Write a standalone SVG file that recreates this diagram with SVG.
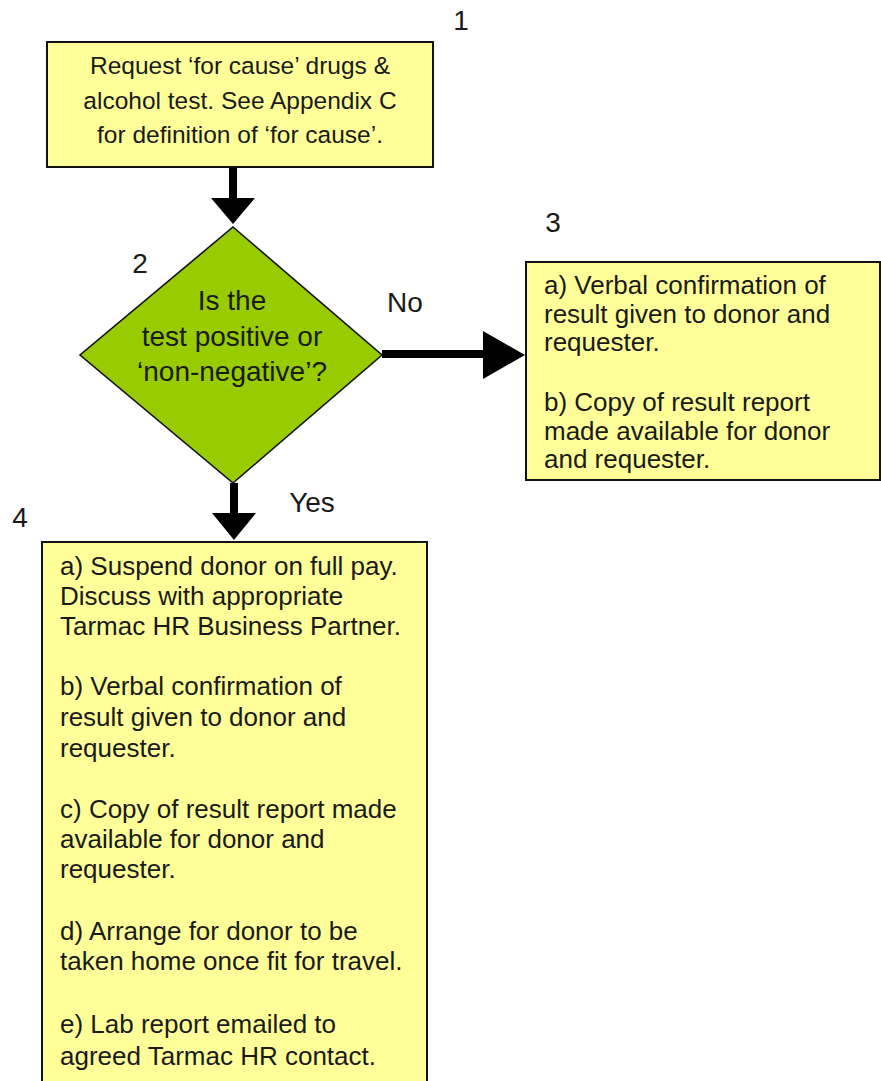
<svg xmlns="http://www.w3.org/2000/svg" width="881" height="1081" viewBox="0 0 881 1081">
<style>
.box{fill:#ffff99;stroke:#111;stroke-width:2}
.dia{fill:#99cc00;stroke:#111;stroke-width:1.6}
.t{font-family:"Liberation Sans",Arial,sans-serif;fill:#1a1a1a}
.b1{font-size:24.5px;text-anchor:middle}
.b{font-size:26px}
.d{font-size:28px;text-anchor:middle}
.lbl{font-family:"Liberation Sans",Arial,sans-serif;font-size:28px;fill:#1a1a1a;text-anchor:middle}
.shaft{stroke:#000;stroke-width:8;fill:none}
.head{fill:#000}
</style>
<rect width="881" height="1081" fill="#fff"/>
<g id="connectors">
  <line class="shaft" x1="233" y1="167" x2="233" y2="200"/>
  <polygon class="head" points="211,198 255,198 233,224"/>
  <line class="shaft" x1="382" y1="354" x2="485" y2="354"/>
  <polygon class="head" points="483,331 483,379 525,355"/>
  <line class="shaft" x1="234" y1="483" x2="234" y2="515"/>
  <polygon class="head" points="212,513 256,513 234,540"/>
  <text class="lbl" x="405" y="312">No</text>
  <text class="lbl" x="312" y="512">Yes</text>
</g>
<g id="node1">
  <rect class="box" x="47" y="42" width="386" height="125"/>
  <text class="t b1" x="240" y="74">Request ‘for cause’ drugs &amp;</text>
  <text class="t b1" x="240" y="109">alcohol test. See Appendix C</text>
  <text class="t b1" x="240" y="143">for definition of ‘for cause’.</text>
  <text class="lbl" x="461" y="30">1</text>
</g>
<g id="node2">
  <polygon class="dia" points="233,227 382,355 233,483 80,355"/>
  <text class="t d" x="232" y="310">Is the</text>
  <text class="t d" x="232" y="346">test positive or</text>
  <text class="t d" x="232" y="381">‘non-negative’?</text>
  <text class="lbl" x="140" y="273">2</text>
</g>
<g id="node3">
  <rect class="box" x="526" y="262" width="354" height="218"/>
  <text class="t b" x="544" y="294">a) Verbal confirmation of</text>
  <text class="t b" x="544" y="322.5">result given to donor and</text>
  <text class="t b" x="544" y="351">requester.</text>
  <text class="t b" x="544" y="411">b) Copy of result report</text>
  <text class="t b" x="544" y="440">made available for donor</text>
  <text class="t b" x="544" y="468">and requester.</text>
  <text class="lbl" x="553" y="232">3</text>
</g>
<g id="node4">
  <rect class="box" x="42" y="542" width="385" height="560"/>
  <text class="t b" x="60" y="575">a) Suspend donor on full pay.</text>
  <text class="t b" x="60" y="605">Discuss with appropriate</text>
  <text class="t b" x="60" y="635">Tarmac HR Business Partner.</text>
  <text class="t b" x="60" y="695">b) Verbal confirmation of</text>
  <text class="t b" x="60" y="726">result given to donor and</text>
  <text class="t b" x="60" y="757">requester.</text>
  <text class="t b" x="60" y="818">c) Copy of result report made</text>
  <text class="t b" x="60" y="848">available for donor and</text>
  <text class="t b" x="60" y="878">requester.</text>
  <text class="t b" x="60" y="940">d) Arrange for donor to be</text>
  <text class="t b" x="60" y="970">taken home once fit for travel.</text>
  <text class="t b" x="60" y="1033">e) Lab report emailed to</text>
  <text class="t b" x="60" y="1065">agreed Tarmac HR contact.</text>
  <text class="lbl" x="20" y="527">4</text>
</g>
</svg>
